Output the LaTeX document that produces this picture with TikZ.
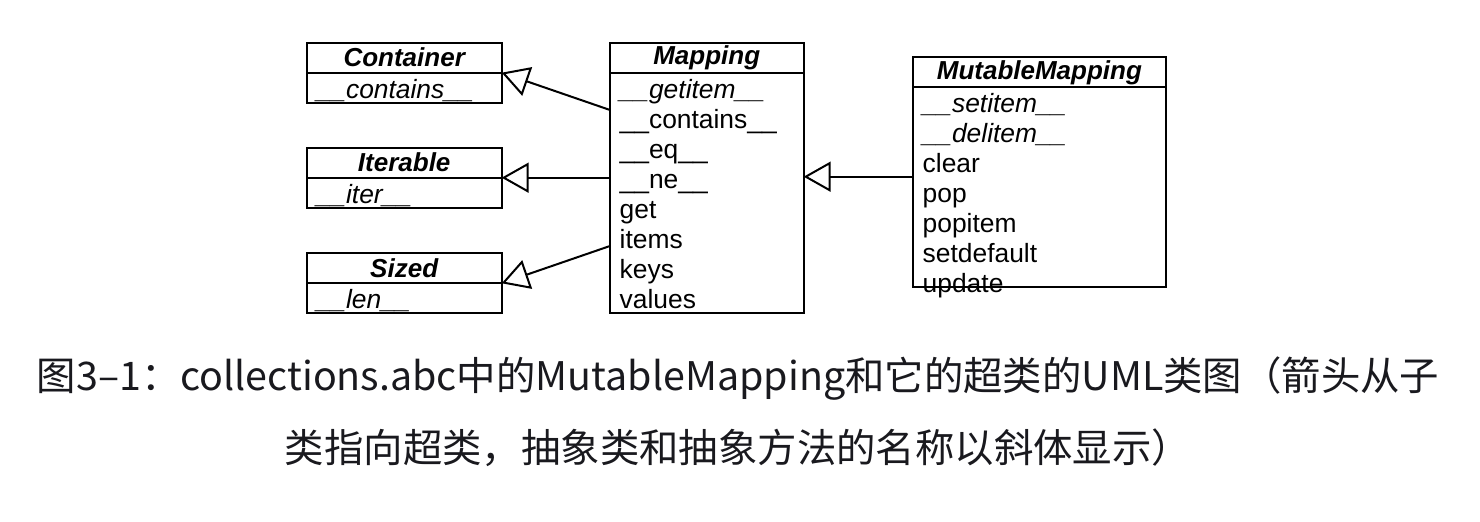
\documentclass[tikz,border=0pt]{standalone}
\usepackage{fontspec}
\setmainfont{Liberation Sans}
\newfontfamily\cjk{Noto Sans CJK SC}
\usetikzlibrary{arrows.meta,positioning}

\definecolor{captext}{RGB}{25,25,30}
\newcommand{\umlrows}[1]{\begin{tabular}[t]{@{}l@{}}#1\end{tabular}}

\begin{document}
\begin{tikzpicture}[x=0.5pt,y=0.5pt,
                    head/.style={draw,line width=1pt,outer sep=0pt,inner sep=0pt,
                                 minimum height=15pt,font=\fontsize{13}{15}\selectfont\bfseries\itshape},
                    body/.style={draw,line width=1pt,outer sep=0pt,inner xsep=5pt,inner ysep=0pt,
                                 text height=12.75pt,align=left,font=\fontsize{13.2}{15}\selectfont},
                    isa/.style={-{Triangle[open,length=13.5pt,width=15pt]},line width=1pt},
                    node distance=0pt]

\useasboundingbox (0,0) rectangle (1480,-522);

% superclasses on the left
\node[head,minimum width=97.5pt,anchor=north west] (container) at (306.7,-42.7) {Container};
\node[body,text width=87.5pt,text depth=2.25pt,below=of container] (container body) {\umlrows{\textit{\_\_contains\_\_}}};

\node[head,minimum width=97.5pt,below=22.5pt of container body] (iterable) {Iterable};
\node[body,text width=87.5pt,text depth=2.25pt,below=of iterable] (iterable body) {\umlrows{\textit{\_\_iter\_\_}}};

\node[head,minimum width=97.5pt,below=22.8pt of iterable body] (sized) {Sized};
\node[body,text width=87.5pt,text depth=2.25pt,below=of sized] (sized body) {\umlrows{\textit{\_\_len\_\_}}};

% Mapping
\node[head,minimum width=97pt,right=54pt of container] (mapping) {Mapping};
\node[body,text width=87pt,text depth=107.25pt,below=of mapping] (mapping body) {\umlrows{%
  \textit{\_\_getitem\_\_}\\
  \_\_contains\_\_\\
  \_\_eq\_\_\\
  \_\_ne\_\_\\
  get\\
  items\\
  keys\\
  values}};

% MutableMapping
\node[head,minimum width=126.7pt,right=54.5pt of mapping,yshift=-7.3pt] (mutable) {MutableMapping};
\node[body,text width=116.7pt,text depth=87.25pt,below=of mutable] (mutable body) {\umlrows{%
  \textit{\_\_setitem\_\_}\\
  \textit{\_\_delitem\_\_}\\
  clear\\
  pop\\
  popitem\\
  setdefault\\
  update}};

% inheritance
\draw[isa] ([yshift=-18.6pt]mapping body.north west) -- (container.south east);
\draw[isa] (iterable.south east -| mapping body.west) -- (iterable.south east);
\draw[isa] ([yshift=-86.7pt]mapping body.north west) -- (sized.south east);
\coordinate (mm out) at ([yshift=-44.7pt]mutable body.north west);
\draw[isa] (mm out) -- (mm out -| mapping body.east);

\node[align=center,text=captext,font=\cjk\fontsize{19.7}{36}\selectfont] (caption) at (738,-412)
  {图3–1：collections.abc中的MutableMapping和它的超类的UML类图（箭头从子\\
   类指向超类，抽象类和抽象方法的名称以斜体显示）};

\end{tikzpicture}
\end{document}
